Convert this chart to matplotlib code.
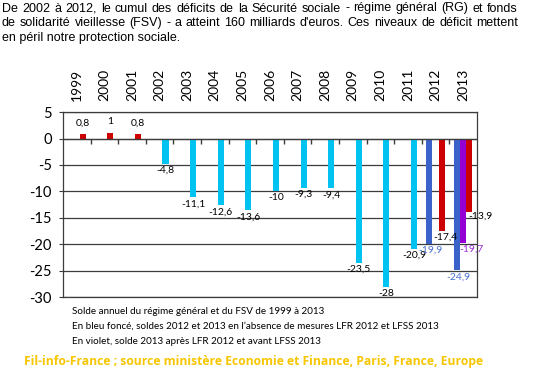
import numpy as np
import matplotlib
matplotlib.use('Agg')
import matplotlib.pyplot as plt

years = ['1999', '2000', '2001', '2002', '2003', '2004', '2005', '2006',
         '2007', '2008', '2009', '2010', '2011', '2012', '2013']
solde = [0.8, 1, 0.8, -4.8, -11.1, -12.6, -13.6, -10, -9.3, -9.4,
         -23.5, -28, -20.9, -17.4, -13.9]
bleu_fonce_years = ['2012', '2013']
bleu_fonce = [-19.9, -24.9]
violet_years = ['2013']
violet = [-19.7]

RED = '#cc0000'
CYAN = '#00c3f2'
DBLUE = '#3a62c8'
VIOLET = '#9400d3'
GRID = '#3c3c3c'


def fmt(v):
    s = ('%g' % v).replace('.', ',')
    return s


def bar_color(year, v):
    if v > 0 or year in ('2012', '2013'):
        return RED
    return CYAN


fig = plt.figure(figsize=(5.33, 3.70), dpi=100)
ax = fig.add_axes([0.118, 0.197, 0.777, 0.500])

x = np.arange(len(years))
w = 0.22
off_main = 0.217
off_dark = -0.235

# main series
colors = [bar_color(y, v) for y, v in zip(years, solde)]
ax.bar(x + off_main, solde, w, color=colors, zorder=3)

# dark blue / violet
xd = np.array([years.index(y) for y in bleu_fonce_years])
ax.bar(xd + off_dark, bleu_fonce, w, color=DBLUE, zorder=3)
xv = np.array([years.index(y) for y in violet_years])
ax.bar(xv, violet, w, color=VIOLET, zorder=3)

# value labels
shift = {'2012': 3, '2013': 8}
for xi, y, v in zip(x, years, solde):
    if v > 0:
        ax.annotate(fmt(v), (xi + off_main, v), xytext=(0, 5), textcoords='offset points',
                    ha='center', va='bottom', fontsize=7.5, family='Lato', zorder=5)
    else:
        ax.annotate(fmt(v), (xi + off_main, v), xytext=(shift.get(y, 0), 0 if y == '2013' else -1.5),
                    textcoords='offset points', ha='center', va='top',
                    fontsize=7.5, family='Lato', zorder=5)
for xi, v in zip(xd, bleu_fonce):
    ax.annotate(fmt(v), (xi + off_dark, v), xytext=(1, -1.5), textcoords='offset points',
                ha='center', va='top', fontsize=7.5, family='Lato', color='#4a6fd0', zorder=5)
for xi, v in zip(xv, violet):
    ax.annotate(fmt(v), (xi, v), xytext=(6, -1.5), textcoords='offset points',
                ha='center', va='top', fontsize=7.5, family='Lato', color='#9a2fd6', zorder=5)

ax.set_xlim(-0.5, len(years) - 0.5)
ax.set_ylim(-30, 5)
ax.set_yticks(range(-30, 6, 5))
ax.set_yticklabels([str(t) for t in range(-30, 6, 5)], family='Lato', fontsize=10.5)
ax.yaxis.grid(True, color=GRID, lw=0.9, zorder=0)
ax.tick_params(axis='y', length=3, color=GRID, pad=5)

ax.xaxis.tick_top()
ax.set_xticks(x)
ax.set_xticklabels(years, rotation=90, family='Lato', fontsize=10)
ax.tick_params(axis='x', length=0, pad=8)

# small ticks on the zero line, between categories
bounds = np.arange(len(years) - 1) + 0.5
ax.plot(bounds, np.zeros_like(bounds), ls='none', marker=3, ms=3.5, mew=1, color=GRID, zorder=4)
ax.axhline(0, color=GRID, lw=0.9, zorder=4)

for s in ax.spines.values():
    s.set_color(GRID)
    s.set_linewidth(0.9)

# intro paragraph, first two lines justified
intro = ["De 2002 à 2012, le cumul des déficits de la Sécurité sociale -  régime général (RG) et fonds",
         "de solidarité vieillesse (FSV) - a atteint 160 milliards d'euros. Ces niveaux de déficit mettent",
         "en péril notre protection sociale."]
renderer = fig.canvas.get_renderer()
x0, x1 = 2, 518
for i, line in enumerate(intro):
    ypos = 1 - (8.5 + 14.7 * i) / 370
    if i == len(intro) - 1:
        fig.text(x0 / 533, ypos, line, ha='left', va='center', family='Liberation Sans', fontsize=9)
        continue
    words = line.split()
    tmp = [fig.text(0, ypos, wd, ha='left', va='center', family='Liberation Sans', fontsize=9)
           for wd in words]
    widths = [t.get_window_extent(renderer).width for t in tmp]
    gap = (x1 - x0 - sum(widths)) / (len(words) - 1)
    cur = x0
    for t, wdt in zip(tmp, widths):
        t.set_x(cur / 533)
        cur += wdt + gap

notes = ["Solde annuel du régime général et du FSV de 1999 à 2013",
         "En bleu foncé, soldes 2012 et 2013 en l’absence de mesures LFR 2012 et LFSS 2013",
         "En violet, solde 2013 après LFR 2012 et avant LFSS 2013"]
for i, line in enumerate(notes):
    fig.text(72 / 533, 1 - (311.5 + 14.8 * i) / 370, line, ha='left', va='center',
             family='Lato', fontsize=7.15)

fig.text(24 / 533, 1 - 361.5 / 370,
         'Fil-info-France ; source ministère Economie et Finance, Paris, France, Europe',
         ha='left', va='center', family='Open Sans', fontweight='bold', fontsize=8.75,
         color='#f7c600')

fig.savefig('out.png', dpi=100)
